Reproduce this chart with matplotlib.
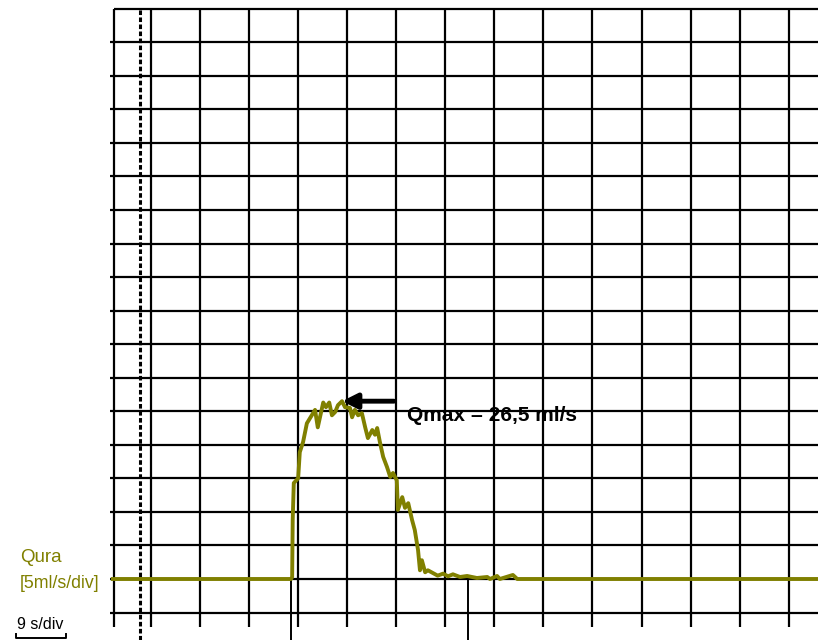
import matplotlib
matplotlib.use('Agg')
import numpy as np
import matplotlib.pyplot as plt

# uroflow curve (time in s, flow in ml/s)
t_s = [-7.0, 25.7, 25.9, 26.0, 26.2, 27.0, 27.3, 27.9, 28.6, 29.5, 30.1, 30.6,
       31.6, 32.1, 32.7, 33.2, 33.8, 34.3, 35.05, 35.6, 36.5, 36.9, 37.4, 38.0,
       38.7, 39.3, 39.8, 40.6, 41.1, 41.5, 42.0, 42.6, 43.3, 43.9, 44.4, 45.1,
       45.3, 46.1, 46.6, 47.2, 47.9, 48.4, 49.0, 49.35, 49.7, 50.3, 50.8, 51.7,
       52.6, 53.6, 54.5, 55.4, 56.7, 58.0, 59.8, 61.7, 62.2, 63.5, 64.0, 66.4,
       67.2, 125.0]
q_mls = [0.0, 0.0, 0.3, 8.8, 14.3, 15.0, 18.9, 20.4, 23.2, 24.4, 25.2, 22.6,
         26.3, 25.6, 26.3, 24.4, 24.9, 25.9, 26.5, 25.6, 25.5, 24.1, 25.2, 24.4,
         24.7, 22.6, 21.0, 22.2, 21.5, 22.5, 20.4, 18.2, 16.7, 15.2, 15.8, 14.7,
         10.3, 12.2, 10.6, 11.3, 8.8, 7.3, 4.3, 1.3, 2.8, 1.0, 1.3, 0.9,
         0.5, 0.8, 0.4, 0.7, 0.3, 0.45, 0.15, 0.3, 0.0, 0.45, 0.0, 0.6,
         0.0, 0.0]

q_max = 26.5
s_per_div = 9
ml_per_div = 5
time_lines = [0, 9, 18, 27, 36, 45, 54, 63, 72, 81, 90, 99, 108, 117]
flow_lines = list(range(-5, 90, 5))
t_cursor = -2.0
t_start = 25.7
t_end = 58.2

W, H = 818, 640
px_x = 49.05   # px per division
px_y = 33.55
x0, y0 = 151, 579  # pixel of t=0, q=0

def tx(px):
    return (px - x0) * s_per_div / px_x

def qy(py):
    return (y0 - py) * ml_per_div / px_y

fig = plt.figure(figsize=(W / 100, H / 100), dpi=100)
ax = fig.add_axes([0, 0, 1, 1])
ax.set_xlim(tx(0), tx(W))
ax.set_ylim(qy(H), qy(0))
ax.axis('off')

t_left = tx(114)
q_top = flow_lines[-1]
q_bot = qy(627)

# horizontal grid
for q in flow_lines:
    xs = t_left if q == q_top else tx(110)
    ax.plot([xs, tx(W)], [q, q], color='black', lw=1.6, solid_capstyle='butt')
# vertical grid + left border
for t in [t_left] + time_lines:
    ax.plot([t, t], [q_bot, q_top], color='black', lw=1.6, solid_capstyle='butt')

# cursor lines
ax.plot([t_cursor, t_cursor], [qy(H), q_top], color='black', lw=2.2,
        linestyle=(0, (1.5, 0.8)))
ax.plot([t_start, t_start], [0, qy(H)], color='black', lw=1.4)
ax.plot([t_end, t_end], [0, qy(H)], color='black', lw=1.4)

# flow curve
ax.plot(t_s, q_mls, color='#808000', lw=2.8, solid_joinstyle='round')

# Qmax arrow
ax.annotate('', xy=(tx(342), q_max), xytext=(tx(394), q_max),
            arrowprops=dict(arrowstyle='-|>,head_length=0.9,head_width=0.45',
                            color='black', lw=3.5, shrinkA=0, shrinkB=0))
fam = ['Liberation Sans', 'DejaVu Sans']
ax.text(tx(407), qy(421), 'Qmax = 26,5 ml/s', fontsize=15, fontweight='bold',
        family=fam, va='baseline', ha='left')

fig.text(20 / W, 1 - 562 / H, 'Qura', color='#808000', fontsize=13.5,
         family=fam, va='baseline')
fig.text(20 / W, 1 - 588 / H, '[5ml/s/div]', color='#808000', fontsize=12.8,
         family=fam, va='baseline')
fig.text(17 / W, 1 - 629 / H, '9 s/div', color='black', fontsize=11.5,
         family=fam, va='baseline')
# scale bar under "9 s/div"
ax.plot([tx(16), tx(16), tx(66), tx(66)], [qy(634), qy(638), qy(638), qy(634)],
        color='black', lw=1.4)

fig.savefig('out.png', dpi=100)
